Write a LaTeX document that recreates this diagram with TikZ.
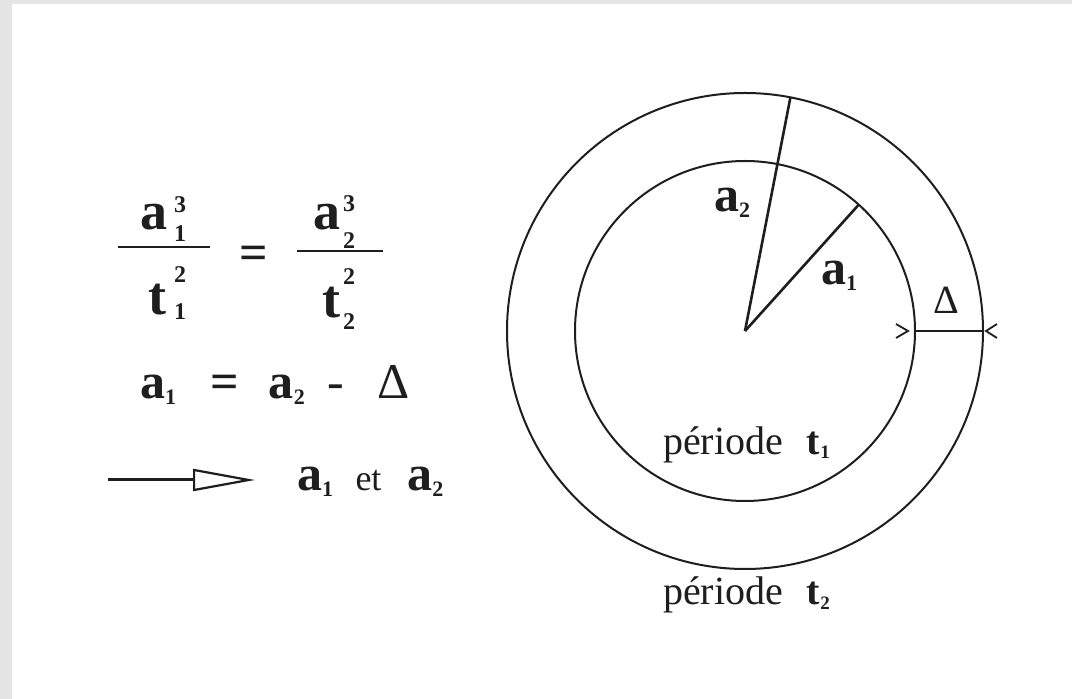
\documentclass[tikz,border=0pt]{standalone}
\usepackage{amsmath}
\usepackage{fontspec}
\setmainfont{Liberation Serif}
\usepackage{tikz}
\usetikzlibrary{positioning,arrows.meta}
\DeclareMathSizes{50}{50}{22}{16}
\DeclareMathSizes{40}{40}{19}{14}
\definecolor{pagegray}{HTML}{E5E5E5}
\definecolor{ink}{HTML}{1E1E1E}
% letter with stacked sub/superscript: [box width] letter, sub, sup, raise sup, raise sub
\newcommand{\scrsz}{\fontsize{24}{24}\selectfont}
\newcommand{\kepl}[6][31pt]{\makebox[#1][l]{\textbf{#2}}\rlap{\raisebox{#5}{\scrsz\textbf{#4}}}\raisebox{#6}{\scrsz\textbf{#3}}}

\begin{document}
\begin{tikzpicture}[
  x=1pt, y=1pt,
  line width=2pt, draw=ink, text=ink,
  eq/.style={font=\fontsize{50}{60}\selectfont, inner sep=0pt},
  frac/.style={font=\fontsize{54}{60}\selectfont, inner sep=0pt, anchor=base west},
  lbl/.style={font=\fontsize{40}{48}\selectfont, inner sep=0pt},
  orbit/.style={draw, circle, inner sep=0pt, outer sep=0pt},
  arr/.style={-{Triangle[open, length=62pt, width=22pt, line width=2.2pt]}, line width=3pt}
]
\useasboundingbox (0,0) rectangle (1072,699);
\fill[pagegray] (0,0) rectangle (1072,699);
\fill[white] (12,0) rectangle (1072,695);

% --- Kepler law ---
\node[frac] (num1) at (139,469) {\kepl[34pt]{a}{1}{3}{17pt}{-12pt}};
\node[frac] (den1) at (147,384) {\kepl[26pt]{t}{1}{2}{32pt}{-5pt}};
\draw (118,452) -- (210,452);
\node[eq] (eqs) at (254,441) {\textbf{=}};
\node[frac] (num2) at (312,469) {\kepl[30pt]{a}{2}{3}{18pt}{-19pt}};
\node[frac] (den2) at (321,381) {\kepl[21pt]{t}{2}{2}{33pt}{-12pt}};
\draw (297,448) -- (383,448);

\node[eq, anchor=base west] (diff) at (139,300) {$\textbf{a}_{\textbf{1}}$\hspace{34pt}\textbf{=}\hspace{30pt}$\textbf{a}_{\textbf{2}}$\hspace{22pt}-\hspace{33pt}Δ};

% --- result ---
\coordinate (arrS) at (108,219);
\coordinate (arrE) at (255,219);
\draw[arr] (arrS) -- (arrE);
\node[eq, anchor=base west] (res) at (296,208) {$\textbf{a}_{\textbf{1}}$\hspace{22pt}{\fontsize{36}{40}\selectfont et}\hspace{26pt}$\textbf{a}_{\textbf{2}}$};

% --- orbits ---
\coordinate (ctr) at (745,368);
\node[orbit, minimum size=340pt] (inner) at (ctr) {};
\node[orbit, minimum size=476pt] (outer) at (ctr) {};

\draw[line width=2.6pt] (ctr) -- (outer.79);
\draw[line width=2.6pt] (ctr) -- (inner.48);
\node[eq, anchor=base west] (la2) at (713,487) {$\textbf{a}_{\textbf{2}}$};
\node[eq, anchor=base west] (la1) at (820,414) {$\textbf{a}_{\textbf{1}}$};

% delta gap
\draw[line width=2.6pt] (inner.east) -- (outer.east);
\draw[line width=1.8pt] ([shift={(-19,7)}]inner.east) -- ++(12,-7) -- ++(-12,-7);
\draw[line width=1.8pt] ([shift={(14,7)}]outer.east) -- ++(-11,-7) -- ++(11,-7);
\node[lbl] (dlt) at (946,399) {Δ};

\node[lbl, anchor=base west] (p1) at (662,244) {période\hspace{24pt}$\textbf{t}_{\textbf{1}}$};
\node[lbl, anchor=base west] (p2) at (662,94) {période\hspace{24pt}$\textbf{t}_{\textbf{2}}$};

\end{tikzpicture}
\end{document}
